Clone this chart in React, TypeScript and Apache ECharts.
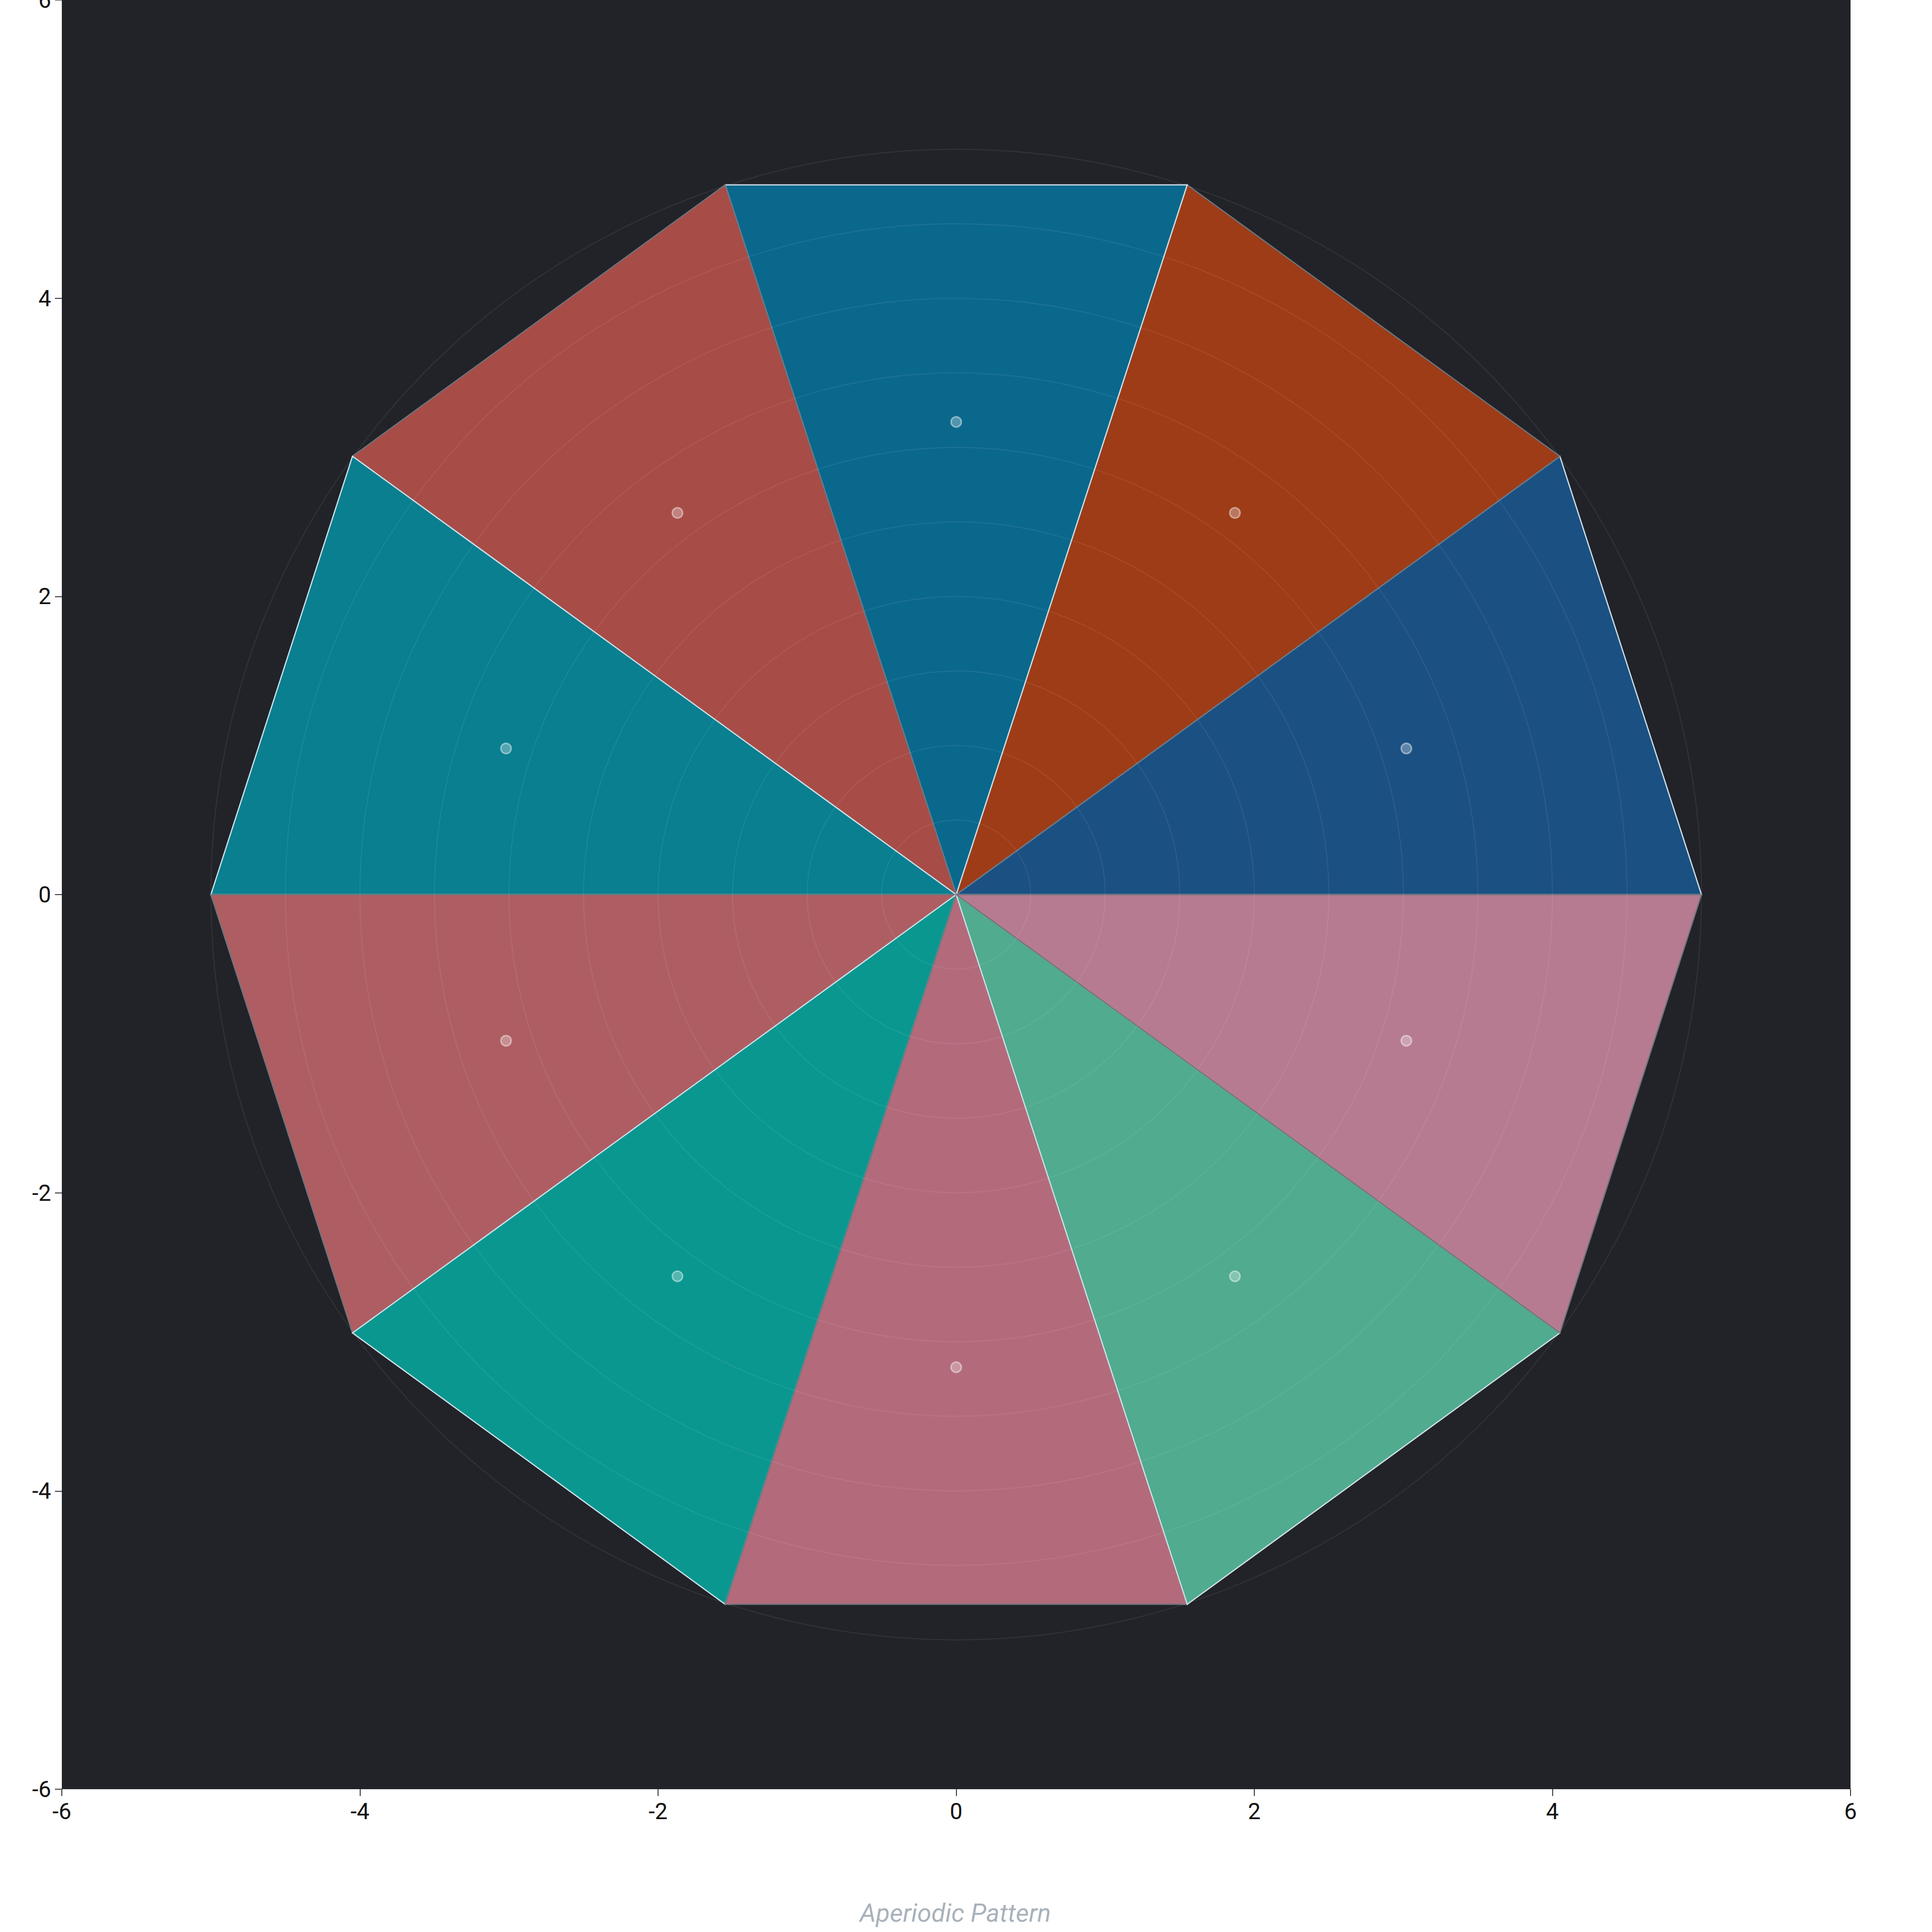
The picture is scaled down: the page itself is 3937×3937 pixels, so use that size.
import React, { useEffect, useRef } from 'react';
import * as echarts from 'echarts';

// decagon vertices (outer corners of the ten triangles)
const vertexX = [5, 4.05, 1.55, -1.55, -4.05, -5, -4.05, -1.55, 1.55, 4.05];
const vertexY = [0, 2.94, 4.76, 4.76, 2.94, 0, -2.94, -4.76, -4.76, -2.94];

// dots in the middle of each triangle
const centerX = [3.02, 1.87, 0, -1.87, -3.02, -3.02, -1.87, 0, 1.87, 3.02];
const centerY = [0.98, 2.56, 3.17, 2.56, 0.98, -0.98, -2.56, -3.17, -2.56, -0.98];

const fillColors = [
  '#1B5083', '#9E3C17', '#0A688C', '#A84C47', '#097F90',
  '#AE5E62', '#0A9790', '#B36B7B', '#50AB8F', '#B67B91'
];
const strokeColors = [
  '#CFE0E8', '#6E747C', '#CFE0E8', '#6E747C', '#CFE0E8',
  '#6E747C', '#CFE0E8', '#6E747C', '#CFE0E8', '#6E747C'
];

// faint rings behind the pattern
const ringRadii = [0.5, 1, 1.5, 2, 2.5, 3, 3.5, 4, 4.5, 5];

const axisTicks = [-6, -4, -2, 0, 2, 4, 6];

const App: React.FC = () => {
  const chartRef = useRef<HTMLDivElement>(null);

  useEffect(() => {
    if (!chartRef.current) return;
    const chart = echarts.init(chartRef.current, undefined, { renderer: 'svg' });

    const axisCommon = {
      type: 'value' as const,
      min: axisTicks[0],
      max: axisTicks[axisTicks.length - 1],
      interval: 2,
      axisLine: { show: false, onZero: false },
      axisTick: { show: true, length: 14, lineStyle: { color: '#000', width: 1.5 } },
      axisLabel: {
        color: '#111',
        fontSize: 46,
        fontFamily: 'Roboto',
        margin: 22
      },
      splitLine: { show: false }
    };

    chart.setOption({
      animation: false,
      backgroundColor: '#ffffff',
      title: {
        text: 'Aperiodic Pattern',
        left: 1752,
        top: 3872,
        padding: 0,
        textStyle: {
          color: '#A9B2BB',
          fontSize: 52,
          fontStyle: 'italic',
          fontWeight: 'normal',
          fontFamily: 'Roboto'
        }
      },
      grid: {
        left: 126,
        right: 166,
        top: 0,
        bottom: 291,
        outerBoundsMode: 'none',
        containLabel: false,
        show: true,
        backgroundColor: '#212328',
        borderWidth: 0
      },
      xAxis: { ...axisCommon, position: 'bottom' },
      yAxis: { ...axisCommon, position: 'left' },
      series: [
        {
          type: 'custom',
          name: 'tiles',
          clip: true,
          data: vertexX.map((x, i) => [x, vertexY[i]]),
          encode: { x: 0, y: 1 },
          renderItem: (params: any, api: any) => {
            const i = params.dataIndex;
            const j = (i + 1) % vertexX.length;
            const points = [
              api.coord([0, 0]),
              api.coord([api.value(0), api.value(1)]),
              api.coord([vertexX[j], vertexY[j]])
            ];
            return {
              type: 'polygon',
              shape: { points },
              style: {
                fill: fillColors[i],
                stroke: strokeColors[i],
                lineWidth: 2.5,
                lineJoin: 'miter'
              }
            };
          }
        },
        {
          type: 'custom',
          name: 'rings',
          silent: true,
          data: ringRadii.map(r => [0, 0, r]),
          encode: { x: 0, y: 1 },
          renderItem: (params: any, api: any) => {
            const c = api.coord([api.value(0), api.value(1)]);
            const r = api.size([api.value(2), 0])[0];
            return {
              type: 'circle',
              shape: { cx: c[0], cy: c[1], r },
              style: {
                fill: 'none',
                stroke: 'rgba(255,255,255,0.08)',
                lineWidth: 2
              }
            };
          }
        },
        {
          type: 'scatter',
          name: 'centers',
          data: centerX.map((x, i) => [x, centerY[i]]),
          symbolSize: 21,
          itemStyle: {
            color: 'rgba(255,255,255,0.3)',
            borderColor: 'rgba(255,255,255,0.45)',
            borderWidth: 3,
            opacity: 1
          }
        }
      ]
    });

    return () => {
      chart.dispose();
    };
  }, []);

  return (
    <div
      ref={chartRef}
      style={{ position: 'fixed', left: 0, top: 0, width: 3937, height: 3937 }}
    />
  );
};

export default App;
